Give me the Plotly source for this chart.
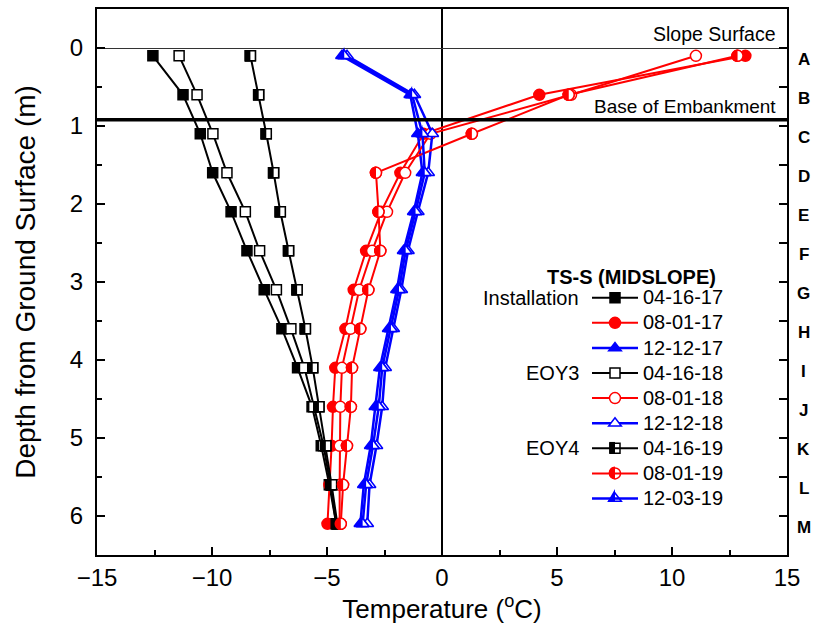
import math
import plotly.graph_objects as go

# ---------------- data ----------------
depth = [0.1, 0.6, 1.1, 1.6, 2.1, 2.6, 3.1, 3.6, 4.1, 4.6, 5.1, 5.6, 6.1]
sensor = ["A", "B", "C", "D", "E", "F", "G", "H", "I", "J", "K", "L", "M"]

t_041617 = [-12.57, -11.26, -10.51, -9.97, -9.17, -8.48, -7.73, -6.96, -6.28, -5.65, -5.25, -4.90, -4.60]
t_080117 = [13.19, 4.23, -0.80, -1.81, -2.65, -3.30, -3.84, -4.20, -4.64, -4.74, -4.80, -4.90, -4.98]
t_121217 = [-4.35, -1.38, -1.05, -0.85, -1.23, -1.67, -1.96, -2.32, -2.70, -2.90, -3.10, -3.40, -3.55]
t_041618 = [-11.43, -10.65, -9.96, -9.35, -8.55, -7.93, -7.20, -6.57, -5.98, -5.58, -5.15, -4.85, -4.60]
t_080118 = [11.04, 5.61, -0.50, -1.60, -2.39, -3.04, -3.60, -3.98, -4.35, -4.42, -4.45, -4.45, -4.45]
t_121218 = [-4.13, -1.20, -0.42, -0.60, -1.05, -1.48, -1.77, -2.12, -2.47, -2.60, -2.85, -3.15, -3.25]
t_041619 = [-8.33, -7.97, -7.64, -7.32, -7.03, -6.67, -6.30, -5.94, -5.62, -5.35, -5.05, -4.80, -4.55]
t_080119 = [12.85, 5.51, 1.30, -2.87, -2.76, -2.68, -3.20, -3.55, -3.91, -3.96, -4.13, -4.30, -4.40]
t_120319 = [-4.25, -1.30, -0.85, -0.75, -1.15, -1.58, -1.87, -2.22, -2.60, -2.75, -3.00, -3.30, -3.45]

series_names = ["04-16-17", "08-01-17", "12-12-17",
                "04-16-18", "08-01-18", "12-12-18",
                "04-16-19", "08-01-19", "12-03-19"]
series_vals = [t_041617, t_080117, t_121217,
               t_041618, t_080118, t_121218,
               t_041619, t_080119, t_120319]
group_labels = ["Installation", "EOY3", "EOY4"]

SLOPE_SURFACE = 0.0
BASE_EMBANKMENT = 0.92

# ---------------- style ----------------
FONT = "Liberation Sans, Arial, sans-serif"
BLACK, RED, BLUE = "#000000", "#ff0000", "#0000ff"
colors = [BLACK, RED, BLUE]
symbols = ["square", "circle", "triangle-up"]
msizes = [10, 11, 11]
lwidths = [2, 2, 2.5]
fills = ["solid", "open", "half"]

W, H = 817, 635
ML, MR, MT, MB = 97, 30, 7, 80
PW, PH = W - ML - MR, H - MT - MB

# legend geometry (pixels)
LEG_FONT = 17                      # drives row height in plotly
LEG_TEXT = 20                      # visible text size
ITEM_W = 46
ROW_STEP = LEG_FONT * 1.3 + 3
ROW0_PX = 296.7
LEG_TOP_PX = ROW0_PX - ROW_STEP / 2 - 5
LEG_X_PX = 587
MARK_X_PX = LEG_X_PX + 5 + ITEM_W / 2


def px2paper_x(px):
    return (px - ML) / PW


def px2paper_y(py):
    return (H - MB - py) / PH


fig = go.Figure()

half_series = []
for i, (name, vals) in enumerate(zip(series_names, series_vals)):
    g, c = divmod(i, 3)
    col, sym, ms, fill = colors[c], symbols[c], msizes[c], fills[g]
    if fill == "solid":
        mcol = col
    elif fill == "open":
        mcol = "white"
    else:
        mcol = "rgba(0,0,0,0)"
    fig.add_trace(go.Scatter(
        x=vals, y=depth, name=f'<span style="font-size:{LEG_TEXT}px">{name}</span>',
        mode="lines+markers",
        line=dict(color=col, width=lwidths[c]),
        marker=dict(symbol=sym, size=ms, color=mcol, line=dict(color=col, width=1.5)),
    ))
    if fill == "half":
        # white body drawn over the line, the left half is painted by shapes
        fig.add_trace(go.Scatter(
            x=vals, y=depth, mode="markers", showlegend=False, hoverinfo="skip",
            marker=dict(symbol=sym, size=ms, color="white", line=dict(color=col, width=1.5)),
        ))
        half_series.append((vals, c, i))


def half_path(kind, size):
    r = size / 2 + 0.75
    if kind == 0:
        return f"M{-r},{-r} L0,{-r} L0,{r} L{-r},{r} Z"
    if kind == 1:
        k = 0.5523
        return (f"M0,{-r} C{-k*r},{-r} {-r},{-k*r} {-r},0 "
                f"C{-r},{k*r} {-k*r},{r} 0,{r} Z")
    rr = size / 2
    rt = rr * 2 / math.sqrt(3) + 0.8
    r2 = rr / 2 + 0.75
    rs = rr * math.sqrt(2) + 1.0
    return f"M{-rt},{-r2} L0,{-r2} L0,{rs} Z"


shapes = []
for vals, c, i in half_series:
    for xv, yv in zip(vals, depth):
        shapes.append(dict(
            type="path", xref="x", yref="y", xsizemode="pixel", ysizemode="pixel",
            xanchor=xv, yanchor=yv, path=half_path(c, msizes[c]),
            fillcolor=colors[c], line=dict(width=0), layer="above"))

# base of embankment line
shapes.append(dict(type="line", xref="paper", yref="y", x0=0, x1=1,
                   y0=BASE_EMBANKMENT, y1=BASE_EMBANKMENT,
                   line=dict(color="black", width=3.5), layer="above"))

# half-filled symbols of the legend entries
for vals, c, i in half_series:
    yy = ROW0_PX + i * ROW_STEP
    shapes.append(dict(
        type="path", xref="paper", yref="paper", xsizemode="pixel", ysizemode="pixel",
        xanchor=px2paper_x(MARK_X_PX), yanchor=px2paper_y(yy), path=half_path(c, msizes[c]),
        fillcolor=colors[c], line=dict(width=0), layer="above"))

annotations = []
for s, d in zip(sensor, depth):
    annotations.append(dict(text=s, x=1.024, xref="paper", y=d, yref="y",
                            xanchor="center", yanchor="middle", yshift=-4, showarrow=False,
                            font=dict(size=17, family=FONT, color="black", weight="bold")))

annotations.append(dict(text="Slope Surface", x=1, xref="paper", y=SLOPE_SURFACE, yref="y",
                        xanchor="right", yanchor="bottom", xshift=-9, yshift=1, showarrow=False,
                        font=dict(size=19.5, family=FONT, color="black")))
annotations.append(dict(text="Base of Embankment", x=1, xref="paper", y=BASE_EMBANKMENT, yref="y",
                        xanchor="right", yanchor="bottom", xshift=-9, yshift=1, showarrow=False,
                        font=dict(size=19, family=FONT, color="black")))
annotations.append(dict(text="TS-S (MIDSLOPE)", x=px2paper_x(631), xref="paper",
                        y=px2paper_y(276), yref="paper", xanchor="center", yanchor="middle",
                        showarrow=False,
                        font=dict(size=20, family=FONT, color="black", weight="bold")))
for k, lab in enumerate(group_labels):
    annotations.append(dict(text=lab, x=px2paper_x(581), xref="paper",
                            y=px2paper_y(ROW0_PX + 3 * k * ROW_STEP), yref="paper",
                            xanchor="right", yanchor="middle", showarrow=False,
                            font=dict(size=20, family=FONT, color="black")))

fig.update_layout(
    width=W, height=H,
    margin=dict(l=ML, r=MR, t=MT, b=MB),
    paper_bgcolor="white", plot_bgcolor="white",
    font=dict(family=FONT, color="black"),
    showlegend=True,
    legend=dict(x=px2paper_x(LEG_X_PX), y=px2paper_y(LEG_TOP_PX), xanchor="left", yanchor="top",
                bgcolor="rgba(0,0,0,0)", borderwidth=0, traceorder="normal",
                font=dict(size=LEG_FONT, family=FONT, color="black"), itemwidth=ITEM_W,
                tracegroupgap=0),
    shapes=shapes,
    annotations=annotations,
    xaxis=dict(range=[-15, 15], tick0=-15, dtick=5, ticks="inside", ticklen=8, tickwidth=1.5,
               tickcolor="black", minor=dict(dtick=2.5, ticks="inside", ticklen=5, tickwidth=1.5,
                                             tickcolor="black"),
               showline=True, linecolor="black", linewidth=2, mirror=True, showgrid=False,
               zeroline=True, zerolinecolor="black", zerolinewidth=1.5,
               tickfont=dict(size=24, family=FONT), ticklabelstandoff=0,
               title=dict(text="Temperature (<sup>o</sup>C)", font=dict(size=26, family=FONT),
                          standoff=0)),
    yaxis=dict(range=[6.5, -0.5], tick0=0, dtick=1, ticks="inside", ticklen=8, tickwidth=1.5,
               tickcolor="black", minor=dict(dtick=0.5, ticks="inside", ticklen=5, tickwidth=1.5,
                                             tickcolor="black"),
               showline=True, linecolor="black", linewidth=2, mirror=True, showgrid=False,
               zeroline=True, zerolinecolor="#333333", zerolinewidth=1.2,
               tickfont=dict(size=24, family=FONT), ticklabelstandoff=7,
               title=dict(text="Depth from Ground Surface (m)", font=dict(size=28, family=FONT),
                          standoff=26)),
    yaxis2=dict(overlaying="y", side="right", matches="y", range=[6.5, -0.5], tick0=0, dtick=0.5,
                ticks="inside", ticklen=8, tickwidth=1.5, tickcolor="black",
                showticklabels=False, showgrid=False, zeroline=False, showline=False),
)

# invisible trace to activate the right-hand tick axis
fig.add_trace(go.Scatter(x=[None], y=[None], yaxis="y2", showlegend=False, hoverinfo="skip"))

fig.write_html("out.html")
